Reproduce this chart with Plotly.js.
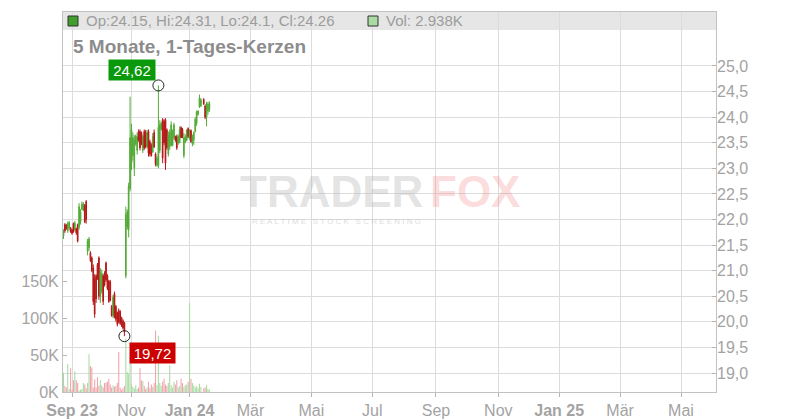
<!DOCTYPE html>
<html>
<head>
<meta charset="utf-8">
<script src="https://cdn.plot.ly/plotly-3.0.1.min.js"></script>
<style>html,body{margin:0;padding:0;background:#fff;}#chart{width:800px;height:420px;}</style>
</head>
<body>
<div id="chart"></div>
<script>
// ---- data ----
const dates = [
 "2023-08-24","2023-08-25","2023-08-28","2023-08-29","2023-08-30","2023-08-31",
 "2023-09-01","2023-09-05","2023-09-06","2023-09-07","2023-09-08","2023-09-11","2023-09-12","2023-09-13","2023-09-14","2023-09-15",
 "2023-09-18","2023-09-19","2023-09-20","2023-09-21","2023-09-22","2023-09-25","2023-09-26","2023-09-27","2023-09-28","2023-09-29",
 "2023-10-02","2023-10-03","2023-10-04","2023-10-05","2023-10-06","2023-10-09","2023-10-10","2023-10-11","2023-10-12","2023-10-13",
 "2023-10-16","2023-10-17","2023-10-18","2023-10-19","2023-10-20","2023-10-23","2023-10-24","2023-10-25","2023-10-26","2023-10-27",
 "2023-10-30","2023-10-31",
 "2023-11-01","2023-11-02","2023-11-03","2023-11-06","2023-11-07","2023-11-08","2023-11-09","2023-11-10","2023-11-13","2023-11-14",
 "2023-11-15","2023-11-16","2023-11-17","2023-11-20","2023-11-21","2023-11-22","2023-11-24","2023-11-27","2023-11-28","2023-11-29","2023-11-30",
 "2023-12-01","2023-12-04","2023-12-05","2023-12-06","2023-12-07","2023-12-08","2023-12-11","2023-12-12","2023-12-13","2023-12-14","2023-12-15",
 "2023-12-18","2023-12-19","2023-12-20","2023-12-21","2023-12-22","2023-12-26","2023-12-27","2023-12-28","2023-12-29",
 "2024-01-02","2024-01-03","2024-01-04","2024-01-05","2024-01-08","2024-01-09","2024-01-10","2024-01-11","2024-01-12",
 "2024-01-16","2024-01-17","2024-01-18","2024-01-19","2024-01-22"
];
const open = [
 21.68,21.90,21.88,21.78,21.84,21.84,
 21.80,21.92,21.80,21.82,21.90,21.85,21.95,22.20,22.18,22.28,
 22.35,21.38,21.45,21.35,21.25,21.05,20.85,20.90,21.12,21.25,
 20.50,20.60,20.90,20.95,21.15,20.90,20.80,20.78,20.30,20.12,
 20.55,20.30,20.18,20.22,20.20,20.08,20.02,19.98,20.90,21.85,
 21.80,22.60,
 23.10,23.25,23.00,23.48,23.35,23.72,23.72,23.70,23.35,23.72,
 23.70,23.42,23.72,23.52,23.45,23.32,23.70,23.28,23.06,23.05,23.35,
 23.76,23.95,23.92,23.95,23.75,23.28,23.42,23.45,23.45,23.60,23.62,
 23.62,23.50,23.50,23.80,23.76,23.25,23.52,23.55,23.78,
 23.58,23.74,23.48,23.55,23.72,23.88,24.05,24.20,24.22,
 24.35,24.22,24.00,24.12,24.15
];
const high = [
 21.81,21.93,21.91,21.96,21.97,21.85,
 21.82,21.94,21.97,21.84,21.92,22.32,22.20,22.35,22.34,22.30,
 22.38,21.62,21.66,21.38,21.28,21.12,20.93,20.93,21.15,21.28,
 21.05,21.02,20.93,20.99,21.18,20.93,20.82,20.82,20.33,20.53,
 20.59,20.33,20.20,20.26,20.23,20.10,20.05,20.00,22.25,22.20,
 22.72,24.40,
 23.87,23.70,23.65,23.66,23.70,23.76,23.76,23.72,23.66,23.76,
 23.75,23.75,23.76,23.56,23.49,23.69,23.76,23.31,23.24,24.62,23.94,
 23.91,23.98,23.96,23.98,23.78,23.72,23.76,23.92,23.76,23.89,23.64,
 23.66,23.66,23.82,23.82,23.79,23.69,23.66,23.76,23.80,
 23.76,23.76,23.66,23.72,24.00,24.13,24.13,24.44,24.37,
 24.37,24.25,24.30,24.30,24.31
];
const low = [
 21.62,21.74,21.80,21.74,21.80,21.74,
 21.70,21.74,21.77,21.70,21.55,21.80,21.90,22.18,22.16,21.93,
 21.92,21.30,21.38,21.17,20.97,20.33,20.08,20.37,20.82,20.43,
 20.37,20.55,20.33,20.69,20.78,20.62,20.37,20.40,20.10,20.07,
 20.07,20.00,19.91,19.97,19.94,19.90,19.85,19.72,20.85,21.80,
 21.65,22.55,
 22.97,23.15,22.85,23.44,23.27,23.52,23.35,23.45,23.30,23.36,
 23.39,23.39,23.23,23.23,23.23,23.30,23.40,23.04,23.03,23.00,23.30,
 23.74,23.10,23.45,22.97,23.36,23.23,23.36,23.43,23.43,23.56,23.52,
 23.36,23.46,23.49,23.59,23.59,23.20,23.49,23.53,23.59,
 23.56,23.50,23.43,23.46,23.70,23.83,24.03,24.18,24.20,
 24.24,23.96,23.82,24.05,24.10
];
const close = [
 21.78,21.78,21.82,21.93,21.94,21.76,
 21.73,21.76,21.93,21.74,21.58,22.25,22.15,22.30,22.30,21.95,
 22.00,21.58,21.62,21.20,21.00,20.40,20.15,20.45,20.85,20.50,
 20.95,20.95,20.40,20.72,20.82,20.65,20.40,20.42,20.12,20.48,
 20.10,20.05,19.95,20.00,19.97,19.93,19.88,19.80,22.10,22.15,
 22.65,23.60,
 23.75,23.60,23.55,23.62,23.62,23.55,23.40,23.48,23.62,23.40,
 23.42,23.70,23.30,23.28,23.25,23.62,23.42,23.08,23.20,23.80,23.85,
 23.88,23.20,23.50,23.10,23.40,23.65,23.70,23.85,23.70,23.85,23.55,
 23.40,23.62,23.76,23.60,23.62,23.60,23.62,23.75,23.62,
 23.72,23.52,23.62,23.70,23.96,24.10,24.12,24.38,24.34,
 24.26,24.00,24.25,24.26,24.26
];
// volume in thousands
const volumeK = [
 26,8,6,38,4,32,
 3,16,28,16,12,2,3,4,12,10,
 5,12,51,35,33,6,17,6,20,8,
 16,9,6,12,13,14,18,10,6,9,
 7,8,12,54,6,3,5,8,72,27,
 25,39,
 10,7,5,9,4,6,32,16,15,8,
 4,6,14,5,10,7,12,83,9,76,12,
 8,14,18,10,8,12,36,9,6,14,10,
 16,6,8,18,12,7,9,10,14,
 120,18,12,9,6,8,5,11,7,
 5,6,9,4,2.938
];
const holidays = ["2023-09-04","2023-11-23","2023-12-25","2024-01-01"];
const tickDates = ["2023-09-01","2023-11-01","2024-01-02","2024-03-01","2024-05-01","2024-07-01","2024-09-02","2024-11-01","2025-01-01","2025-03-03","2025-05-01"];
const tickLabels = ["<b>Sep 23</b>","Nov","<b>Jan 24</b>","Mär","Mai","Jul","Sep","Nov","<b>Jan 25</b>","Mär","Mai"];
const priceTicks = [19,19.5,20,20.5,21,21.5,22,22.5,23,23.5,24,24.5,25];
const volTicks = [0,50000,100000,150000];
const volTickLabels = ["0K","50K","100K","150K"];
const subtitle = "5 Monate, 1-Tages-Kerzen";

// ---- derived ----
const UP = '#52aa36', DOWN = '#b51616';
const UPV = '#a9dba3', DOWNV = '#f1a3ab';
const volume = volumeK.map(v => v * 1000);
const volColors = close.map((c, i) => c >= open[i] ? UPV : DOWNV);
const n = close.length;
let hiIdx = 0, loIdx = 0;
for (let i = 0; i < n; i++) { if (high[i] > high[hiIdx]) hiIdx = i; if (low[i] < low[loIdx]) loIdx = i; }
const fmtC = v => v.toFixed(2).replace('.', ',');

// pixel -> paper helpers (plot area 63..716 x 12..392)
const PL = 63, PR = 716, PT = 12, PB = 392;
const px = x => (x - PL) / (PR - PL);
const py = y => (PB - y) / (PB - PT);

const traces = [
 { type: 'bar', x: dates, y: volume, yaxis: 'y', marker: { color: volColors, line: { width: 0 } },
   width: 0.75 * 86400000, hoverinfo: 'skip' },
 { type: 'candlestick', x: dates, open: open, high: high, low: low, close: close, yaxis: 'y2',
   increasing: { line: { color: UP, width: 1 }, fillcolor: UP },
   decreasing: { line: { color: DOWN, width: 1 }, fillcolor: DOWN },
   whiskerwidth: 0, hoverinfo: 'skip' },
 { type: 'scatter', mode: 'markers', x: [dates[hiIdx], dates[loIdx]], y: [high[hiIdx], low[loIdx]], yaxis: 'y2',
   marker: { symbol: 'circle-open', size: 11, color: '#222', line: { width: 1, color: '#222' } }, hoverinfo: 'skip' }
];

const gray = '#a3a3a3';
const layout = {
 width: 800, height: 420,
 margin: { l: 63, r: 84, t: 12, b: 28, pad: 0 },
 paper_bgcolor: '#ffffff', plot_bgcolor: '#ffffff',
 font: { family: '"Liberation Sans", Arial, sans-serif', color: gray, size: 16 },
 separators: ',.',
 showlegend: false,
 hovermode: false,
 xaxis: {
  type: 'date', range: ['2023-08-23 15:20', '2025-06-04 17:00'],
  rangebreaks: [{ bounds: ['sat', 'mon'] }, { values: holidays }],
  tickmode: 'array', tickvals: tickDates, ticktext: tickLabels,
  ticks: 'outside', ticklen: 4, tickcolor: '#b5b5b5',
  showgrid: true, gridcolor: '#dcdcdc', gridwidth: 1,
  showline: true, linecolor: '#c2c2c2', linewidth: 1, mirror: true,
  zeroline: false, tickfont: { size: 16, color: gray },
  rangeslider: { visible: false }, fixedrange: true, automargin: false
 },
 yaxis: {
  range: [0, 513500], side: 'left',
  tickmode: 'array', tickvals: volTicks, ticktext: volTickLabels,
  ticks: 'inside', ticklen: 4, tickcolor: '#b5b5b5',
  showgrid: false, zeroline: false,
  showline: true, linecolor: '#c2c2c2', linewidth: 1, mirror: true,
  tickfont: { size: 16, color: gray }, fixedrange: true, automargin: false
 },
 yaxis2: {
  overlaying: 'y', side: 'right', range: [18.629, 26.055],
  tickmode: 'array', tickvals: priceTicks, tickformat: '.1f',
  ticks: 'inside', ticklen: 4, tickcolor: '#b5b5b5',
  showgrid: true, gridcolor: '#dcdcdc', gridwidth: 1, zeroline: false, showline: false,
  tickfont: { size: 16, color: gray }, fixedrange: true, automargin: false
 },
 shapes: [
  { type: 'rect', xref: 'paper', yref: 'paper', x0: 0, x1: 1, y0: py(30), y1: 1,
    fillcolor: '#e6e6e6', line: { width: 0 }, layer: 'below' },
  { type: 'rect', xref: 'paper', yref: 'paper', x0: px(68), x1: px(78), y0: py(26), y1: py(16),
    fillcolor: '#3f9f2a', line: { color: '#333', width: 1 }, layer: 'above' },
  { type: 'rect', xref: 'paper', yref: 'paper', x0: px(368), x1: px(378), y0: py(26), y1: py(16),
    fillcolor: '#a9dba3', line: { color: '#333', width: 1 }, layer: 'above' }
 ],
 annotations: [
  { xref: 'paper', yref: 'paper', x: px(84), y: py(21), xanchor: 'left', yanchor: 'middle', showarrow: false,
    text: 'Op:' + open[n-1] + ', Hi:' + high[n-1] + ', Lo:' + low[n-1] + ', Cl:' + close[n-1],
    font: { size: 15, color: '#9c9c9c' } },
  { xref: 'paper', yref: 'paper', x: px(384), y: py(21), xanchor: 'left', yanchor: 'middle', showarrow: false,
    text: 'Vol: ' + volumeK[n-1] + 'K', font: { size: 15, color: '#9c9c9c' } },
  { xref: 'paper', yref: 'paper', x: px(71), y: py(47), xanchor: 'left', yanchor: 'middle', showarrow: false,
    text: '<b>' + subtitle + '</b>', font: { size: 19, color: '#8c8c8c' } },
  // watermark
  { xref: 'paper', yref: 'paper', x: px(238), y: py(191), xanchor: 'left', yanchor: 'middle', showarrow: false,
    text: '<b>TRADER</b>', font: { size: 44, color: 'rgba(185,185,185,0.4)', family: '"Liberation Sans", Arial, sans-serif' } },
  { xref: 'paper', yref: 'paper', x: px(428), y: py(191), xanchor: 'left', yanchor: 'middle', showarrow: false,
    text: '<b>FOX</b>', font: { size: 44, color: 'rgba(240,120,120,0.27)', family: '"Liberation Sans", Arial, sans-serif' } },
  { xref: 'paper', yref: 'paper', x: px(250), y: py(221), xanchor: 'left', yanchor: 'middle', showarrow: false,
    text: 'R E A L T I M E   S T O C K   S C R E E N I N G', font: { size: 8, color: 'rgba(185,185,185,0.5)' } },
  // high / low labels
  { xref: 'x', yref: 'y2', x: dates[hiIdx], y: high[hiIdx], xanchor: 'right', yanchor: 'bottom',
    xshift: -2, yshift: 4, showarrow: false, text: fmtC(high[hiIdx]), width: 44, height: 18,
    bgcolor: '#0a990a', font: { size: 15, color: '#ffffff' } },
  { xref: 'x', yref: 'y2', x: dates[loIdx], y: low[loIdx], xanchor: 'left', yanchor: 'top',
    xshift: 5, yshift: -6, showarrow: false, text: fmtC(low[loIdx]), width: 43, height: 18,
    bgcolor: '#cc0000', font: { size: 15, color: '#ffffff' } }
 ]
};

Plotly.newPlot('chart', traces, layout, { staticPlot: true, displayModeBar: false });
</script>
</body>
</html>
